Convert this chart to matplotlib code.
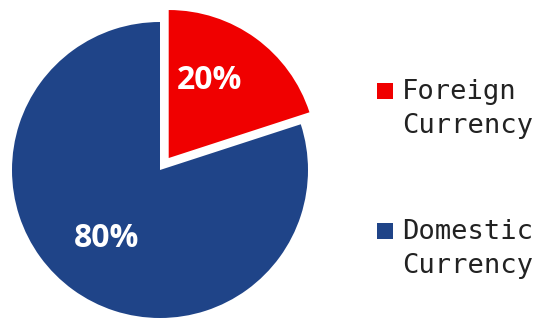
import matplotlib.pyplot as plt
from matplotlib.patches import Rectangle

labels = ["Foreign\nCurrency", "Domestic\nCurrency"]
shares = [20, 80]
colors = ["#F00000", "#1F4488"]
explode = [0.1, 0]

W, H = 544, 319
fig = plt.figure(figsize=(W / 100, H / 100), dpi=100)
ax = fig.add_axes([0, 0, 320 / W, 1])

wedges, texts, autotexts = ax.pie(
    shares, colors=colors, explode=explode, startangle=90, counterclock=False,
    autopct="%d%%", pctdistance=0.6, radius=1,
    wedgeprops=dict(linewidth=0),
    textprops=dict(color="white", fontsize=23, fontweight="bold", family="Open Sans"),
)
# nudge the percentage labels to where they sit in the original
autotexts[0].set_position((0.334, 0.607))
autotexts[1].set_position((-0.358, -0.462))
ax.set_xlim(-160 / 148, 160 / 148)
ax.set_ylim(-149 / 148, 170 / 148)
ax.set_aspect("equal")

# legend drawn by hand: square key next to the first line of each label
for i, (lab, c) in enumerate(zip(labels, colors)):
    base = 99 + 140 * i
    fig.add_artist(Rectangle((377 / W, 1 - base / H), 16 / W, 16 / H,
                             transform=fig.transFigure, facecolor=c, edgecolor="none"))
    for j, line in enumerate(lab.split("\n")):
        fig.text(402 / W, 1 - (base + 34 * j) / H, line, family="DejaVu Sans Mono",
                 fontsize=19.5, color="#222222", ha="left", va="baseline")

fig.savefig("out.png", dpi=100)
